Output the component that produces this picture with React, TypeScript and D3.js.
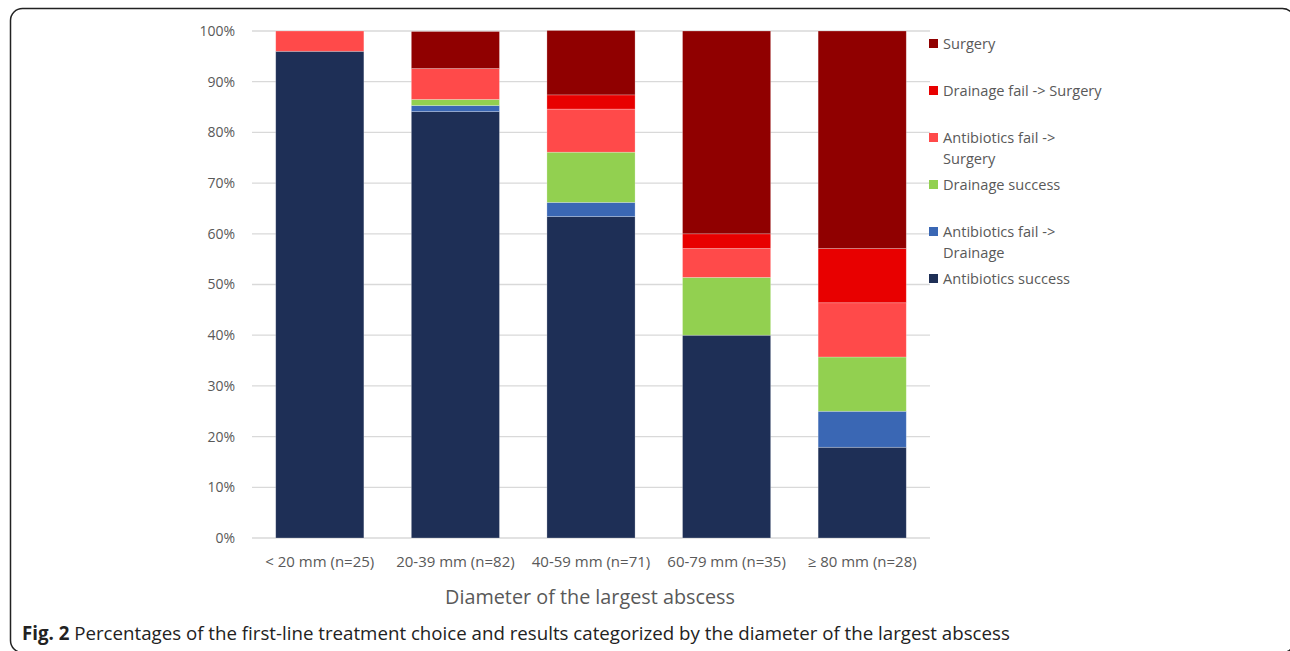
import * as d3 from 'd3';
import { useRef, useEffect } from 'react';

const categories = ['< 20 mm (n=25)', '20-39 mm (n=82)', '40-59 mm (n=71)', '60-79 mm (n=35)', '≥ 80 mm (n=28)'];
const seriesNames = ['Antibiotics success', 'Antibiotics fail -> Drainage', 'Drainage success', 'Antibiotics fail -> Surgery', 'Drainage fail -> Surgery', 'Surgery'];
const antibioticsSuccess = [96.0, 84.1, 63.4, 40.0, 17.9];
const antibioticsFailDrainage = [0, 1.2, 2.8, 0, 7.1];
const drainageSuccess = [0, 1.2, 9.9, 11.4, 10.7];
const antibioticsFailSurgery = [4.0, 6.1, 8.5, 5.7, 10.7];
const drainageFailSurgery = [0, 0, 2.8, 2.9, 10.7];
const surgery = [0, 7.3, 12.7, 40.0, 42.9];
const yTicks = [0, 10, 20, 30, 40, 50, 60, 70, 80, 90, 100];
const colors = ['#1e2f56', '#3a67b4', '#92d050', '#ff4a4a', '#e80000', '#900000'];
// legend lines, top to bottom (Excel reverses stacked order)
const legendLines = [['Surgery'], ['Drainage fail -> Surgery'], ['Antibiotics fail ->', 'Surgery'], ['Drainage success'], ['Antibiotics fail ->', 'Drainage'], ['Antibiotics success']];

const FONT = '"Open Sans", sans-serif';

const App = () => {
  const svgRef = useRef<SVGSVGElement | null>(null);

  useEffect(() => {
    const svg = d3.select(svgRef.current);
    svg.selectAll('*').remove();

    const width = 1290;
    const height = 651;

    // frame (right edge sits just outside the picture)
    svg.append('rect')
      .attr('x', 10.5).attr('y', 8.5)
      .attr('width', 1284).attr('height', 644)
      .attr('rx', 12)
      .attr('fill', 'none')
      .attr('stroke', '#222')
      .attr('stroke-width', 1.5);

    const left = 252;
    const right = 930;
    const top = 31;
    const bottom = 538;

    const x = d3.scaleBand().domain(categories).range([left, right]).paddingInner(0.35).paddingOuter(0.175);
    const y = d3.scaleLinear().domain([0, 100]).range([bottom, top]);

    const g = svg.append('g');

    g.selectAll('line.grid')
      .data(yTicks)
      .enter()
      .append('line')
      .attr('x1', left).attr('x2', right)
      .attr('y1', d => y(d)).attr('y2', d => y(d))
      .attr('stroke', '#d9d9d9')
      .attr('stroke-width', 1.3);

    g.selectAll('text.ytick')
      .data(yTicks)
      .enter()
      .append('text')
      .attr('x', 235)
      .attr('y', d => y(d))
      .attr('dy', '0.35em')
      .attr('text-anchor', 'end')
      .attr('font-family', FONT)
      .attr('font-size', 14)
      .attr('fill', '#595959')
      .text(d => d + '%');

    const series = [antibioticsSuccess, antibioticsFailDrainage, drainageSuccess, antibioticsFailSurgery, drainageFailSurgery, surgery];
    const rows = categories.map((c, i) => {
      const row: Record<string, any> = { cat: c };
      seriesNames.forEach((s, j) => { row[s] = series[j][i]; });
      return row;
    });
    const stacked = d3.stack<any>().keys(seriesNames)(rows);

    stacked.forEach((layer, j) => {
      g.selectAll('rect.s' + j)
        .data(layer)
        .enter()
        .append('rect')
        .attr('x', d => x(d.data.cat)!)
        .attr('width', x.bandwidth())
        .attr('y', d => y(d[1]))
        .attr('height', d => Math.max(0, y(d[0]) - y(d[1])))
        .attr('fill', colors[j])
        .attr('stroke', d => (d[1] - d[0] > 0 ? 'rgba(255,255,255,0.35)' : 'none'))
        .attr('stroke-width', 0.7);
    });

    g.selectAll('text.xtick')
      .data(categories)
      .enter()
      .append('text')
      .attr('x', d => x(d)! + x.bandwidth() / 2)
      .attr('y', 567)
      .attr('text-anchor', 'middle')
      .attr('font-family', FONT)
      .attr('font-size', 15)
      .attr('fill', '#595959')
      .text(d => d);

    svg.append('text')
      .attr('x', 590)
      .attr('y', 604)
      .attr('text-anchor', 'middle')
      .attr('font-family', FONT)
      .attr('font-size', 19.8)
      .attr('fill', '#595959')
      .text('Diameter of the largest abscess');

    // legend
    const legendColors = colors.slice().reverse();
    const legendY = [44, 91, 138, 185, 232, 279];
    legendLines.forEach((lines, i) => {
      svg.append('rect')
        .attr('x', 929).attr('y', legendY[i] - 5)
        .attr('width', 9).attr('height', 9)
        .attr('fill', legendColors[i]);
      lines.forEach((line, k) => {
        svg.append('text')
          .attr('x', 943)
          .attr('y', legendY[i] + k * 21)
          .attr('dy', '0.35em')
          .attr('font-family', FONT)
          .attr('font-size', 14.6)
          .attr('fill', '#595959')
          .text(line);
      });
    });

    // caption
    const cap = svg.append('text')
      .attr('x', 22)
      .attr('y', 640)
      .attr('font-family', FONT)
      .attr('font-size', 18.7)
      .attr('fill', '#222');
    cap.append('tspan').attr('font-weight', 'bold').text('Fig. 2');
    cap.append('tspan').text(' Percentages of the first-line treatment choice and results categorized by the diameter of the largest abscess');

    svg.attr('width', width).attr('height', height);
  }, []);

  return (
    <div style={{ position: 'absolute', left: 0, top: 0, width: 1290, height: 651, background: '#fff' }}>
      <svg ref={svgRef} width={1290} height={651} style={{ display: 'block' }} />
    </div>
  );
};

export default App;
